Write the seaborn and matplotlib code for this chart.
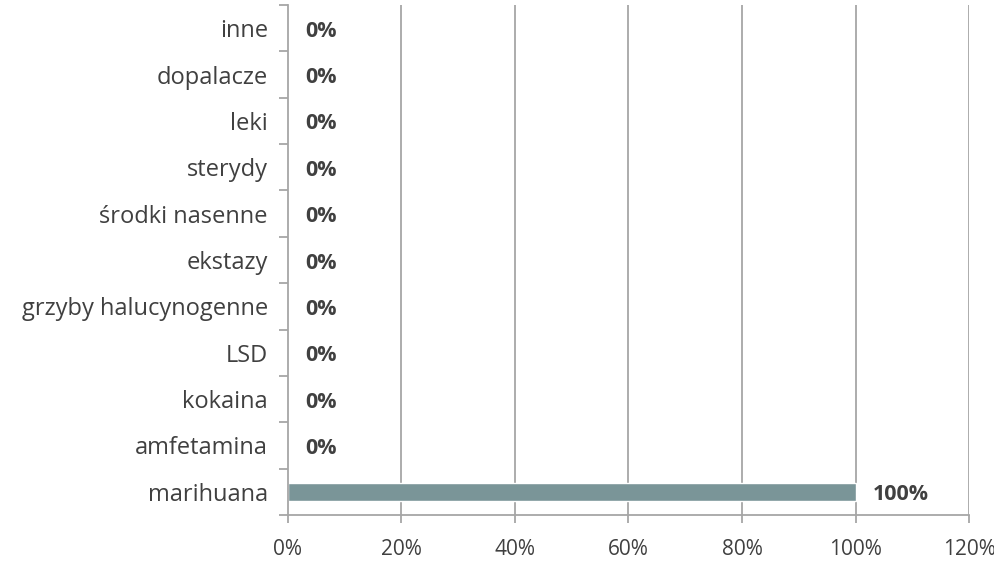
import matplotlib
matplotlib.use("Agg")
import matplotlib.pyplot as plt
import numpy as np
import pandas as pd
import seaborn as sns

substances = ["inne", "dopalacze", "leki", "sterydy", "środki nasenne", "ekstazy",
              "grzyby halucynogenne", "LSD", "kokaina", "amfetamina", "marihuana"]
shares = [0, 0, 0, 0, 0, 0, 0, 0, 0, 0, 100]
x_ticks = [0, 20, 40, 60, 80, 100, 120]

data = pd.DataFrame({"substance": substances, "share": shares})

sns.set_theme(style="white")
plt.rcParams['font.family'] = ['Open Sans', 'DejaVu Sans']

grid_col = '#A6A6A6'
text_col = '#404040'

fig = plt.figure(figsize=(9.95, 5.64), dpi=100)
ax = fig.add_axes([0.2894, 0.0869, 0.6845, 0.9042])

sns.barplot(data=data, x="share", y="substance", orient="h", color='#7A9598',
            saturation=1, width=0.39, ax=ax)

ax.set_xlim(0, 120)
ax.set_ylim(len(substances) - 0.5, -0.5)
ax.set_xticks(x_ticks)
ax.set_xticklabels([f"{t}%" for t in x_ticks])
ax.set_xlabel("")
ax.set_ylabel("")

# vertical gridlines
for t in x_ticks[1:]:
    ax.axvline(t, color=grid_col, lw=1.3, zorder=0)

for s in ['top', 'right']:
    ax.spines[s].set_visible(False)
for s in ['left', 'bottom']:
    ax.spines[s].set_color(grid_col)
    ax.spines[s].set_linewidth(1.3)

# ticks between categories on the y axis
ax.set_yticks(np.arange(-0.5, len(substances), 1), minor=True)
ax.tick_params(axis='y', which='major', length=0, pad=14.4, labelsize=17, labelcolor=text_col)
ax.tick_params(axis='y', which='minor', length=6.5, width=1.3, color=grid_col, left=True)
ax.tick_params(axis='x', which='major', length=6, width=1.3, color=grid_col, bottom=True,
               labelsize=15, labelcolor=text_col, pad=11)

for i, v in enumerate(shares):
    ax.annotate(f"{v}%", xy=(v, i), xytext=(17, -3), textcoords='offset pixels',
                va='center', ha='left', fontsize=15.5, fontweight='bold', color=text_col)

fig.savefig("out.png", dpi=100)
